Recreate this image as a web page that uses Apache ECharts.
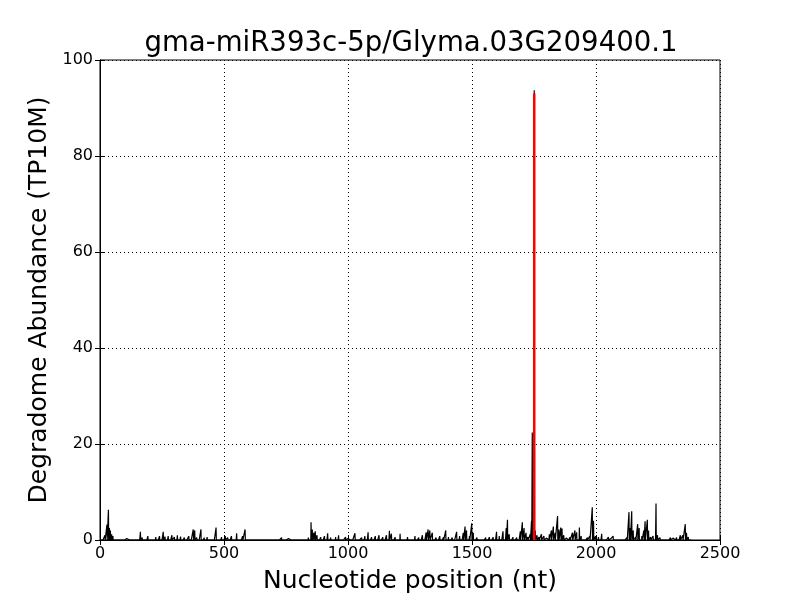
<!DOCTYPE html>
<html>
<head>
<meta charset="utf-8">
<script src="https://cdn.jsdelivr.net/npm/echarts@6/dist/echarts.min.js"></script>
<style>html,body{margin:0;padding:0;background:#fff}#c{width:800px;height:600px}</style>
</head>
<body>
<div id="c"></div>
<script>
const titleText = 'gma-miR393c-5p/Glyma.03G209400.1';
const seqLength = 2385;
const xTicks = [0, 500, 1000, 1500, 2000, 2500];
const yTicks = [0, 20, 40, 60, 80, 100];
// positions (nt) with non-zero degradome abundance
const peakPos = [5,20,28,34,38,42,47,52,58,65,100,108,115,122,130,150,163,170,193,210,225,240,255,262,275,290,300,312,325,340,358,376,382,390,407,420,432,445,468,480,490,505,515,530,551,560,575,585,600,620,640,660,680,700,720,732,760,780,800,820,840,851,856,862,868,875,890,905,918,930,950,962,975,990,1000,1028,1040,1055,1068,1081,1095,1110,1125,1140,1155,1167,1175,1190,1210,1225,1240,1255,1270,1285,1300,1315,1323,1330,1340,1355,1370,1385,1394,1405,1420,1438,1450,1465,1472,1478,1490,1499,1505,1520,1540,1555,1570,1585,1599,1610,1625,1638,1643,1650,1665,1680,1695,1703,1710,1718,1725,1735,1740,1743,1747,1751,1755,1762,1770,1780,1790,1800,1812,1820,1828,1835,1845,1850,1858,1863,1870,1880,1895,1905,1915,1922,1933,1940,1955,1965,1975,1985,1990,1998,2010,2023,2035,2050,2060,2069,2080,2095,2110,2125,2133,2138,2144,2150,2160,2168,2174,2185,2193,2198,2207,2212,2220,2230,2242,2248,2258,2270,2285,2300,2310,2325,2340,2350,2360,2365,2372,2380];
const peakVal = [0.3,1.0,3.2,6.3,2.5,2.0,1.2,0.8,0.4,0.2,0.3,0.3,0.3,0.3,0.3,0.4,1.7,0.5,0.8,0.4,0.6,0.8,1.7,0.7,0.8,1.0,0.6,1.0,0.7,0.5,0.8,2.2,2.0,0.5,2.2,0.5,0.6,0.4,2.6,0.4,0.6,0.8,0.5,0.8,1.4,0.4,0.8,2.2,0.4,0.3,0.3,0.3,0.4,0.3,0.3,0.5,0.3,0.3,0.3,0.4,0.5,3.7,2.2,1.5,1.8,1.0,0.6,0.8,1.4,0.5,0.6,1.0,0.4,0.6,0.3,1.4,0.4,0.5,0.8,1.6,0.6,0.8,1.0,0.6,1.0,1.9,1.3,0.6,1.3,0.4,0.6,0.4,0.8,0.5,1.0,1.6,2.2,2.0,1.5,0.5,0.8,0.6,2.0,0.6,0.5,1.7,0.8,1.5,2.8,2.0,0.8,3.5,1.5,0.5,0.4,0.5,0.6,0.6,1.7,0.8,1.8,2.5,4.2,1.2,0.6,0.5,1.8,3.7,2.5,1.5,0.6,1.2,4.0,22.4,6.0,93.7,2.0,1.0,0.6,1.2,0.8,0.4,1.2,2.0,2.8,1.5,5.0,2.2,2.6,2.4,1.0,0.4,0.6,1.5,2.0,1.6,2.6,0.8,0.4,0.5,0.8,6.8,4.0,0.8,0.6,1.3,0.4,0.6,0.3,0.8,0.4,0.3,0.3,0.5,5.8,2.5,6.0,2.0,0.6,3.3,2.5,0.8,2.0,3.9,4.2,2.0,0.6,0.8,7.6,1.0,0.5,0.3,0.3,0.5,0.4,0.5,1.0,1.0,3.3,1.5,0.6,0.3];
const cleavagePos = 1751;
const cleavageVal = 93;

const valueAt = new Map(peakPos.map((p, i) => [p, peakVal[i]]));
const lineData = [];
for (let p = 1; p <= seqLength; p++) lineData.push([p, valueAt.has(p) ? valueAt.get(p) : 0]);

const font = 'DejaVu Sans';
const chart = echarts.init(document.getElementById('c'), null, {renderer: 'canvas'});
const tickStyle = {show: true, inside: true, length: 5, lineStyle: {color: '#000', width: 1}};
const gridLine = {show: true, lineStyle: {color: '#000', type: [1, 3], width: 1}};
const plainNum = v => String(v);
chart.setOption({
  animation: false,
  backgroundColor: '#fff',
  title: {text: titleText, left: 406, top: 25, textAlign: 'center',
    textStyle: {fontFamily: font, fontSize: 27.6, fontWeight: 'normal', color: '#000'}},
  grid: {left: 100, right: 80, top: 60, bottom: 60, show: true, borderColor: '#000', borderWidth: 1, containLabel: false},
  xAxis: [{
    type: 'value', min: xTicks[0], max: xTicks[xTicks.length - 1], interval: 500,
    name: 'Nucleotide position (nt)', nameLocation: 'middle', nameGap: 29,
    nameTextStyle: {fontFamily: font, fontSize: 25, color: '#000'},
    axisLine: {show: true, lineStyle: {color: '#000'}},
    axisTick: tickStyle, splitLine: gridLine,
    axisLabel: {fontFamily: font, fontSize: 16, color: '#000', margin: 6, formatter: plainNum}
  }, {
    type: 'value', position: 'top', min: 0, max: 2500, interval: 500,
    axisLine: {show: true, lineStyle: {color: '#000'}}, axisTick: tickStyle,
    axisLabel: {show: false}, splitLine: {show: false}
  }],
  yAxis: [{
    type: 'value', min: yTicks[0], max: yTicks[yTicks.length - 1], interval: 20,
    name: 'Degradome Abundance (TP10M)', nameLocation: 'middle', nameGap: 45,
    nameTextStyle: {fontFamily: font, fontSize: 25, color: '#000'},
    axisLine: {show: true, lineStyle: {color: '#000'}},
    axisTick: tickStyle, splitLine: gridLine,
    axisLabel: {fontFamily: font, fontSize: 16, color: '#000', margin: 7, formatter: plainNum}
  }, {
    type: 'value', position: 'right', min: 0, max: 100, interval: 20,
    axisLine: {show: true, lineStyle: {color: '#000'}}, axisTick: tickStyle,
    axisLabel: {show: false}, splitLine: {show: false}
  }],
  series: [{
    type: 'line', data: lineData, showSymbol: false, symbol: 'none', sampling: null,
    lineStyle: {color: '#000', width: 1.2}, z: 3
  }, {
    type: 'line', data: [[cleavagePos, 0], [cleavagePos, cleavageVal]], showSymbol: false, symbol: 'none',
    lineStyle: {color: '#ff0000', width: 2.5}, z: 4
  }]
});
</script>
</body>
</html>
